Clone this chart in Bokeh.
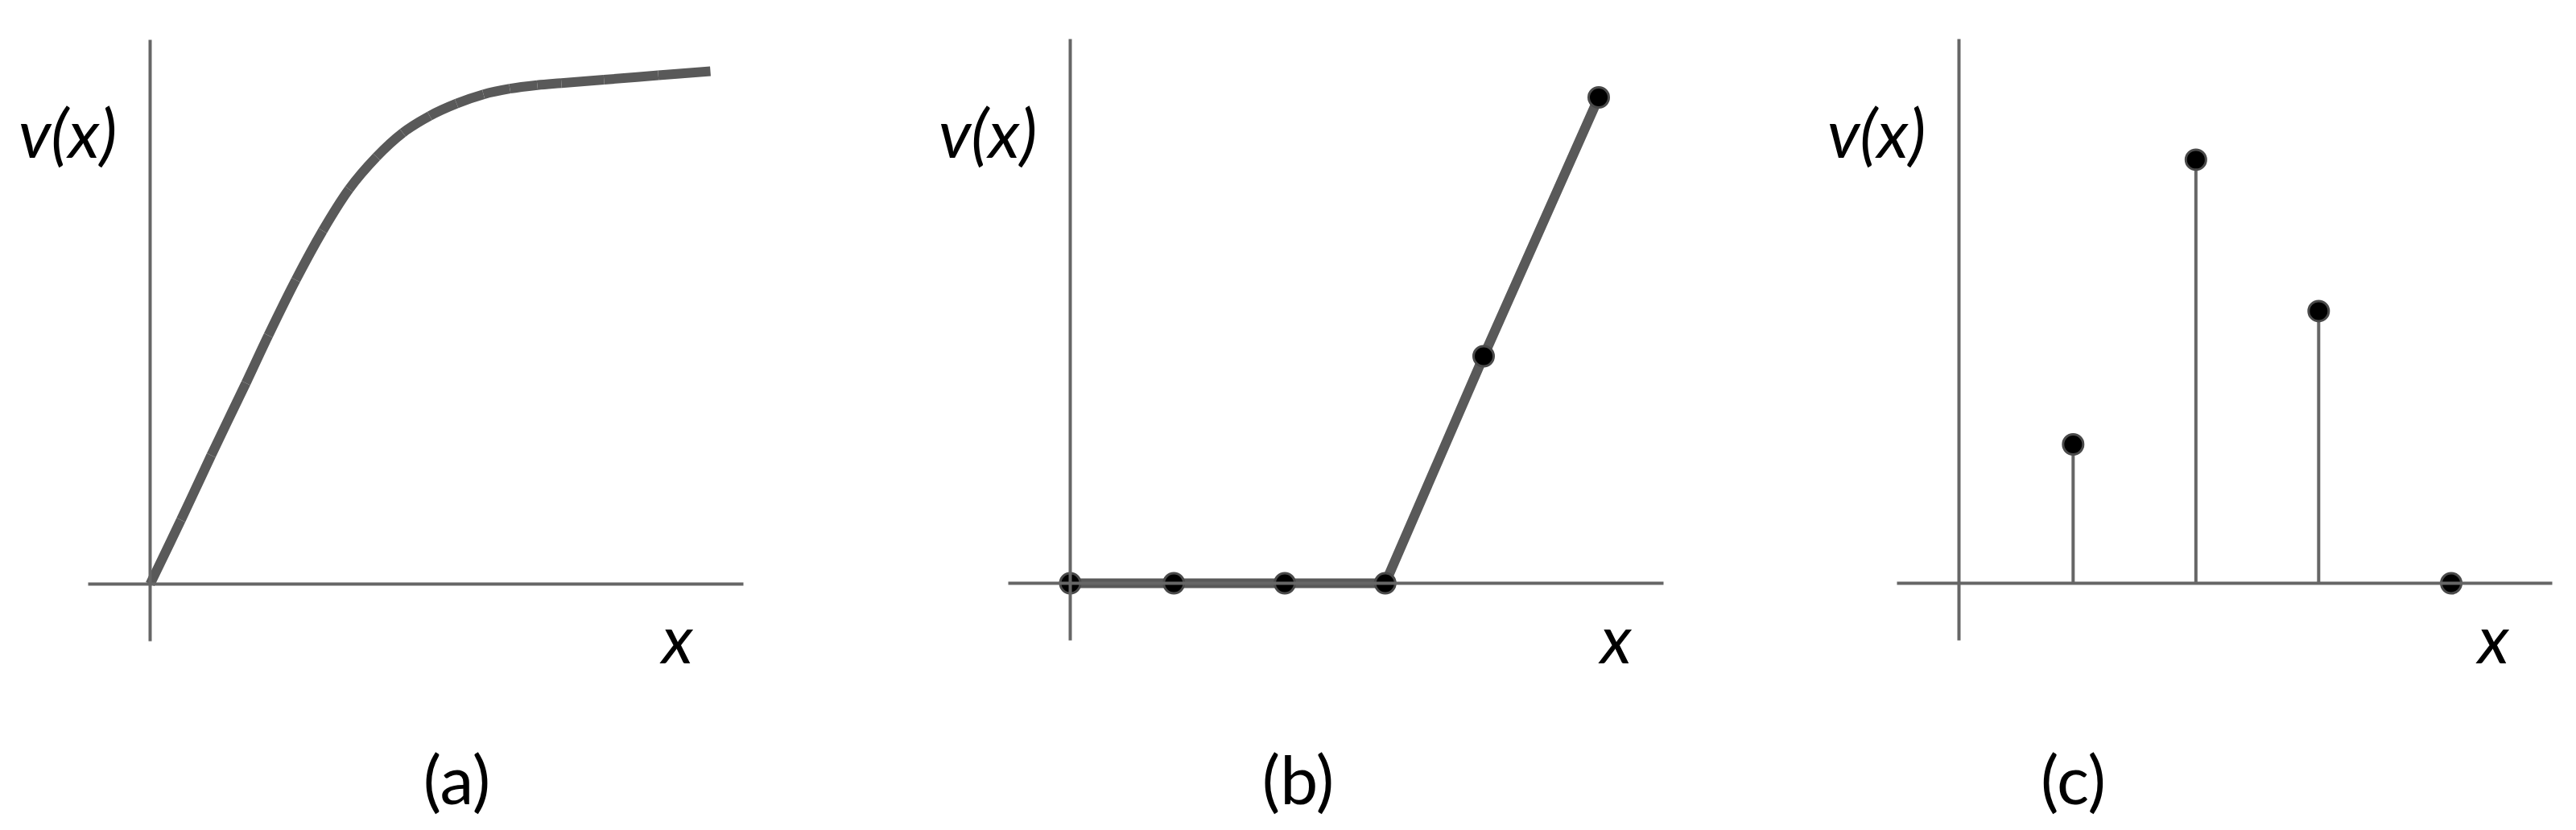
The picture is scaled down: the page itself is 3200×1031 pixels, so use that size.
from bokeh.plotting import figure
from bokeh.layouts import row
from bokeh.models import Range1d, Label
from bokeh.embed import file_html
from bokeh.resources import INLINE

# ---------------- data ----------------
# (a) smooth saturating function
a_x = [0, 0.55, 1.09, 1.71, 2.11, 2.60, 3.08, 3.55, 4.04, 4.51, 4.99,
       5.47, 5.95, 6.42, 6.91, 7.34, 8.10, 9.07, 10.0]
a_v = [0, 1.25, 2.51, 3.92, 4.85, 5.93, 6.89, 7.70, 8.33, 8.80, 9.13,
       9.37, 9.55, 9.66, 9.73, 9.77, 9.835, 9.92, 10.0]

# (b) piecewise-linear function with sample points
b_x = [0, 0.99, 2.05, 3.01, 3.95, 5.05]
b_v = [0, 0, 0, 0, 1.0, 2.14]

# (c) discrete values (stems)
c_x = [0.93, 1.93, 2.93, 4.01]
c_v = [1.0, 3.05, 1.96, 0]

captions = ["(a)", "(b)", "(c)"]
y_label = "v(x)"
x_label = "x"

# ---------------- layout / style ----------------
H = 1028
FONT = "Lato"
FSIZE = "84px"
AXIS_COLOR = "#666666"
LINE_COLOR = "#595959"
LABEL_DROP = 27   # correction for where the text baseline is drawn

# page-pixel geometry for each panel
panels = [
    dict(left=0,    width=1066, ox=186,  oy=725, sx=69.6,  sy=63.7,  xlab_dx=655, cap_cx=567),
    dict(left=1066, width=1065, ox=1329, oy=724, sx=130.0, sy=282.0, xlab_dx=678, cap_cx=1612),
    dict(left=2131, width=1065, ox=2433, oy=724, sx=152.5, sy=172.5, xlab_dx=664, cap_cx=2575),
]
AX_LEFT, AX_RIGHT, AX_BELOW, AX_ABOVE = 77, 737, 71, 676
YLAB_GAP, YLAB_BASE = 41, 190
XLAB_BASE = 818
CAP_BASE = 993


def make_panel(g, caption):
    fx0 = g["ox"] - g["left"]
    fy0 = g["oy"]
    W = g["width"]
    sx, sy = g["sx"], g["sy"]
    p = figure(width=W, height=H, output_backend="svg", toolbar_location=None,
               x_range=Range1d(-fx0 / sx, (W - fx0) / sx),
               y_range=Range1d(-(H - fy0) / sy, fy0 / sy),
               min_border=0, outline_line_color=None)
    p.grid.visible = False
    p.background_fill_color = "white"
    p.border_fill_color = "white"

    for ax, bnds in ((p.xaxis[0], (-AX_LEFT / sx, AX_RIGHT / sx)),
                     (p.yaxis[0], (-AX_BELOW / sy, AX_ABOVE / sy))):
        ax.fixed_location = 0
        ax.bounds = bnds
        ax.ticker = []
        ax.major_tick_line_color = None
        ax.minor_tick_line_color = None
        ax.major_label_text_alpha = 0
        ax.axis_line_color = AXIS_COLOR
        ax.axis_line_width = 4

    def yb(base):
        return (g["oy"] - base + LABEL_DROP) / sy

    p.add_layout(Label(x=-YLAB_GAP / sx, y=yb(YLAB_BASE), text=y_label,
                       text_align="right", text_baseline="alphabetic",
                       text_font=FONT, text_font_style="italic",
                       text_font_size=FSIZE, text_color="black"))
    p.add_layout(Label(x=g["xlab_dx"] / sx, y=yb(XLAB_BASE), text=x_label,
                       text_align="center", text_baseline="alphabetic",
                       text_font=FONT, text_font_style="italic",
                       text_font_size=FSIZE, text_color="black"))
    p.add_layout(Label(x=(g["cap_cx"] - g["ox"]) / sx, y=yb(CAP_BASE),
                       text=caption, text_align="center", text_baseline="alphabetic",
                       text_font=FONT, text_font_size=FSIZE, text_color="black"))
    return p


def smooth_segments(xs, ys):
    """Catmull-Rom control points so the curve passes through every read point."""
    n = len(xs)
    x0, y0, x1, y1, cx0, cy0, cx1, cy1 = [], [], [], [], [], [], [], []
    for i in range(n - 1):
        ip, inn = max(i - 1, 0), min(i + 2, n - 1)
        x0.append(xs[i]); y0.append(ys[i]); x1.append(xs[i + 1]); y1.append(ys[i + 1])
        cx0.append(xs[i] + (xs[i + 1] - xs[ip]) / 6.0)
        cy0.append(ys[i] + (ys[i + 1] - ys[ip]) / 6.0)
        cx1.append(xs[i + 1] - (xs[inn] - xs[i]) / 6.0)
        cy1.append(ys[i + 1] - (ys[inn] - ys[i]) / 6.0)
    return dict(x0=x0, y0=y0, x1=x1, y1=y1, cx0=cx0, cy0=cy0, cx1=cx1, cy1=cy1)


p1 = make_panel(panels[0], captions[0])
p1.bezier(line_width=12, line_color=LINE_COLOR, **smooth_segments(a_x, a_v))

p2 = make_panel(panels[1], captions[1])
p2.line(b_x, b_v, line_width=12, line_color=LINE_COLOR, line_join="round")
p2.scatter(b_x, b_v, size=25, fill_color="black", line_color="#4a4a4a", line_width=3)

p3 = make_panel(panels[2], captions[2])
p3.segment(x0=c_x, y0=[0] * len(c_x), x1=c_x, y1=c_v, line_width=4, line_color=AXIS_COLOR)
p3.scatter(c_x, c_v, size=25, fill_color="black", line_color="#4a4a4a", line_width=3)

layout = row(p1, p2, p3, spacing=0)

with open("out.html", "w") as f:
    f.write(file_html(layout, INLINE))
